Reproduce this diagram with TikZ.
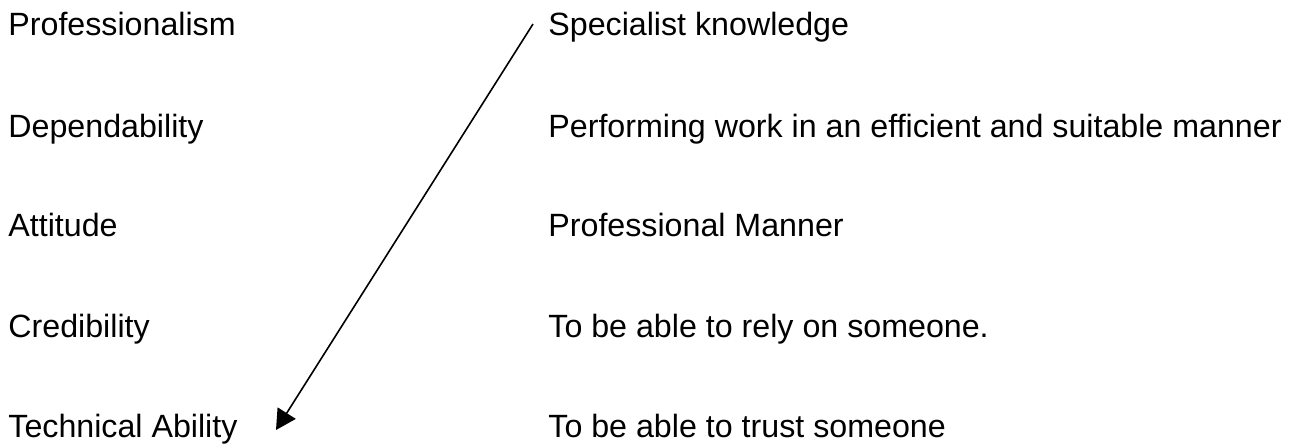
\documentclass[tikz,border=0pt]{standalone}
\usepackage{fontspec}
\setmainfont{Liberation Sans}
\usepackage{tikz}
\usetikzlibrary{arrows.meta}

\tikzset{
	item/.style={anchor=base west, inner sep=0pt, font=\fontsize{16.1}{19}\selectfont},
}

\begin{document}
\begin{tikzpicture}[x=0.5pt,y=-0.5pt]
			\useasboundingbox (0,0) rectangle (1295,447);
			
			\node [item] (prof) at (8,35) {Professionalism};
			\node [item] (dep) at (8,137) {Dependability};
			\node [item] (att) at (8,236) {Attitude};
			\node [item] (cred) at (8,337) {Credibility};
			\node [item] (tech) at (8,437) {Technical Ability};
			
			\node [item] (spec) at (548,35) {Specialist knowledge};
			\node [item] (perf) at (548,137) {Performing work in an efficient and suitable manner};
			\node [item] (manner) at (548,236) {Professional Manner};
			\node [item] (rely) at (548,337) {To be able to rely on someone.};
			\node [item] (trust) at (548,437) {To be able to trust someone};
			
			\coordinate (from) at (533,24);
			\coordinate (to) at (276,430);
			\draw [-{Triangle[length=10pt,width=10.6pt]}, line width=0.8pt] (from) -- (to);
			
			\end{tikzpicture}
\end{document}
